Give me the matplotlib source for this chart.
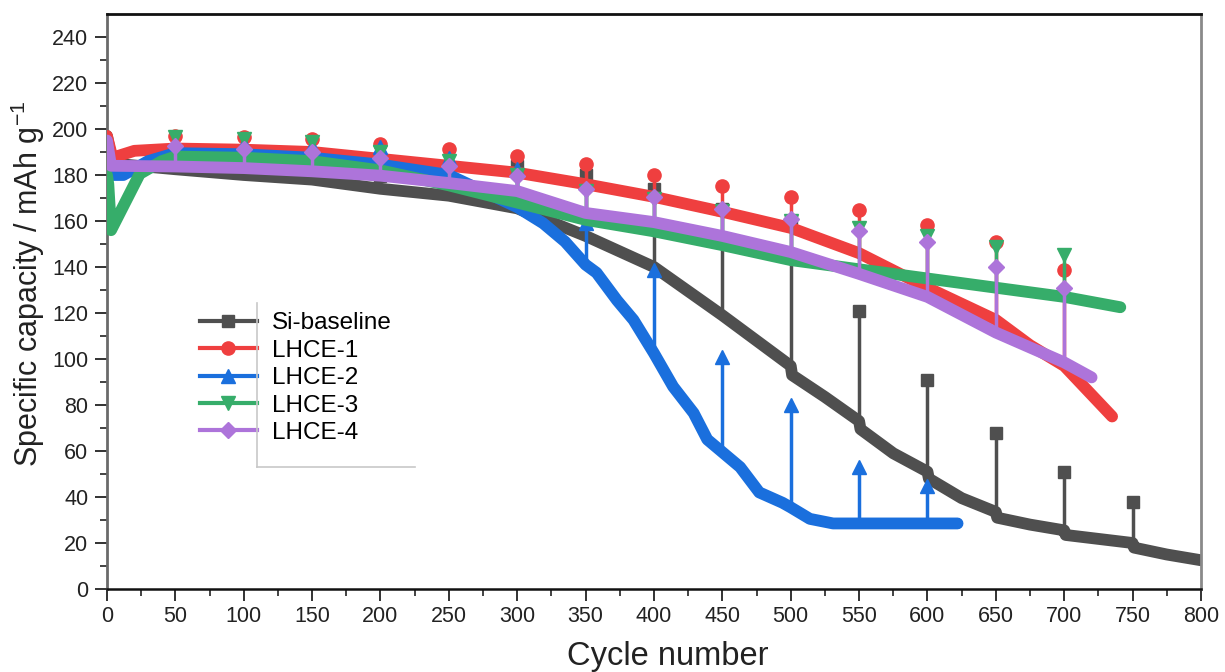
import matplotlib
matplotlib.use('Agg')
import matplotlib.pyplot as plt
from matplotlib.lines import Line2D

plt.rcParams['font.family'] = ['Liberation Sans', 'DejaVu Sans']
plt.rcParams['mathtext.default'] = 'regular'

# ---- data (cycle, capacity in mAh/g) ----
names = ['Si-baseline', 'LHCE-1', 'LHCE-2', 'LHCE-3', 'LHCE-4']

si_cyc = [0, 4, 50, 100, 150, 200, 250, 300, 350, 400, 450, 475, 500, 501, 525, 550, 551,
          575, 600, 601, 625, 650, 651, 675, 700, 701, 750, 751, 775, 800]
si_cap = [197, 185, 182.5, 180, 178, 174, 171, 165.5, 153.5, 140, 119, 108, 97, 93, 83.5, 73, 69.5,
          59, 51, 48, 39.5, 33.5, 31, 28, 25.5, 23.5, 20, 18, 15, 12.5]
si_rpt_cyc = [50, 100, 150, 200, 250, 300, 350, 400, 450, 500, 550, 600, 650, 700, 750]
si_rpt_cap = [184, 183, 181.5, 179.5, 177, 184, 180, 174, 165, 160, 121, 91, 68, 51, 38]

l1_cyc = [0, 4, 20, 50, 100, 150, 200, 250, 300, 350, 400, 450, 500, 550, 600, 650, 675, 700, 735]
l1_cap = [197, 187.5, 190.5, 191.5, 191, 190, 187, 184, 181, 176, 170.5, 164, 157, 146, 131, 117,
          106, 97, 75]
l1_rpt_cyc = [50, 100, 150, 200, 250, 300, 350, 400, 450, 500, 550, 600, 650, 700]
l1_rpt_cap = [197, 196.6, 195.6, 193.4, 191.3, 188.4, 184.8, 180, 175.3, 170.3, 164.8, 158.4,
              150.7, 138.5]

l2_cyc = [0, 3, 12, 30, 50, 100, 150, 200, 250, 275, 300, 319, 335, 350, 358, 373, 385, 400, 414,
          429, 439, 450, 463, 477, 494, 500, 514, 531, 550, 600, 622]
l2_cap = [190, 180, 180, 186, 189.5, 189, 187.5, 184.5, 180, 173, 166, 159, 151, 141, 137.5,
          125.5, 117, 102.5, 88, 76.5, 65, 59.5, 53, 42, 37.5, 35.5, 30.5, 28.5, 28.5, 28.5, 28.5]
l2_rpt_cyc = [50, 100, 150, 200, 250, 300, 350, 400, 450, 500, 550, 600]
l2_rpt_cap = [194, 193.4, 192.7, 192, 187.6, 182.6, 159, 138.5, 100.8, 79.9, 53, 45]

l3_cyc = [0, 1, 3, 24, 40, 50, 100, 150, 200, 250, 300, 350, 400, 450, 500, 550, 600, 650, 700, 741]
l3_cap = [180, 176, 156, 180.5, 186, 188, 187.5, 186, 182, 175.5, 168, 160.5, 155.5, 149.5, 143,
          139, 135, 131, 127, 122.5]
l3_rpt_cyc = [50, 100, 150, 200, 250, 300, 350, 400, 450, 500, 550, 600, 650, 700]
l3_rpt_cap = [196.6, 195.6, 194.2, 190.2, 186, 180, 173, 169.5, 164.5, 160, 157, 153.6, 148.6, 145]

l4_cyc = [0, 3, 50, 100, 150, 200, 250, 300, 350, 400, 450, 500, 550, 600, 650, 700, 720]
l4_cap = [195, 184, 183.7, 183, 181.6, 179.7, 176.5, 173, 163.5, 159.5, 153.5, 146.5, 137, 127,
          111.5, 98.5, 92]
l4_rpt_cyc = [50, 100, 150, 200, 250, 300, 350, 400, 450, 500, 550, 600, 650, 700]
l4_rpt_cap = [192.7, 191.3, 189.9, 187.6, 184, 179.7, 173.9, 170.3, 165.2, 160.9, 155.5, 150.7,
              139.9, 131]

colors = ['#4f4f4f', '#ef3f3f', '#1a6fdd', '#36ad6a', '#ad74da']
markers = ['s', 'o', '^', 'v', 'D']
msizes = [8.5, 9.5, 10, 10, 8]

series = [(si_cyc, si_cap, si_rpt_cyc, si_rpt_cap),
          (l1_cyc, l1_cap, l1_rpt_cyc, l1_rpt_cap),
          (l2_cyc, l2_cap, l2_rpt_cyc, l2_rpt_cap),
          (l3_cyc, l3_cap, l3_rpt_cyc, l3_rpt_cap),
          (l4_cyc, l4_cap, l4_rpt_cyc, l4_rpt_cap)]

fig = plt.figure(figsize=(12.25, 6.72), dpi=100)
ax = fig.add_axes([0.0873, 0.1235, 0.8931, 0.8557])

for i, (cyc, cap, rc, rv) in enumerate(series):
    z = 2 + i
    col = colors[i]
    ax.plot(cyc, cap, color=col, lw=8.5, solid_joinstyle='round', solid_capstyle='round', zorder=z)
    base = dict(zip(cyc, cap))
    # RPT cycles stick out of the band
    for c, v in zip(rc, rv):
        ax.plot([c, c], [base[c], v], color=col, lw=2.5, zorder=z)
    ax.plot(rc, rv, ls='none', marker=markers[i], ms=msizes[i], color=col, zorder=z)

ax.set_xlim(0, 800)
ax.set_ylim(0, 250)
ax.set_xticks(range(0, 801, 50))
ax.set_xticks(range(25, 800, 50), minor=True)
ax.set_yticks(range(0, 241, 20))
ax.set_yticks(range(10, 250, 20), minor=True)
ax.tick_params(which='major', direction='out', length=8.5, width=1.3, labelsize=15.5,
               top=False, right=False, colors='#222222')
ax.tick_params(axis='y', which='major', pad=5)
ax.tick_params(axis='x', which='major', pad=4)
ax.tick_params(which='minor', direction='out', length=5, width=1.2, top=False, right=False,
               colors='#222222')

ax.spines['top'].set_color('#111111')
ax.spines['top'].set_linewidth(2)
ax.spines['bottom'].set_color('#111111')
ax.spines['bottom'].set_linewidth(1.8)
ax.spines['left'].set_color('#6a6a6a')
ax.spines['left'].set_linewidth(2)
ax.spines['right'].set_color('#8a8a8a')
ax.spines['right'].set_linewidth(2)

fig.text(28 / 1225, 1 - 284 / 672, 'Specific capacity / mAh g$^{-1}$', rotation=90,
         ha='center', va='center', fontsize=22, color='#222222')
fig.text(668 / 1225, 7 / 672, 'Cycle number', ha='center', va='baseline', fontsize=23.5,
         color='#222222')

handles = [Line2D([], [], color=colors[i], lw=3, marker=markers[i], ms=msizes[i])
           for i in range(len(names))]
ax.legend(handles, names, loc='upper left', bbox_to_anchor=(0.085, 0.481), frameon=False,
          fontsize=17.5, handlelength=2.35, handletextpad=0.62, labelspacing=0.22,
          borderpad=0, borderaxespad=0)

# partial legend box (left and bottom edges only, as in the original)
ax.plot([0.1374, 0.1374], [0.497, 0.2127], color='#c8c8c8', lw=1.2, transform=ax.transAxes,
        zorder=10)
ax.plot([0.1374, 0.2818], [0.2127, 0.2127], color='#c8c8c8', lw=1.2, transform=ax.transAxes,
        zorder=10)

fig.savefig('out.png', dpi=100)
